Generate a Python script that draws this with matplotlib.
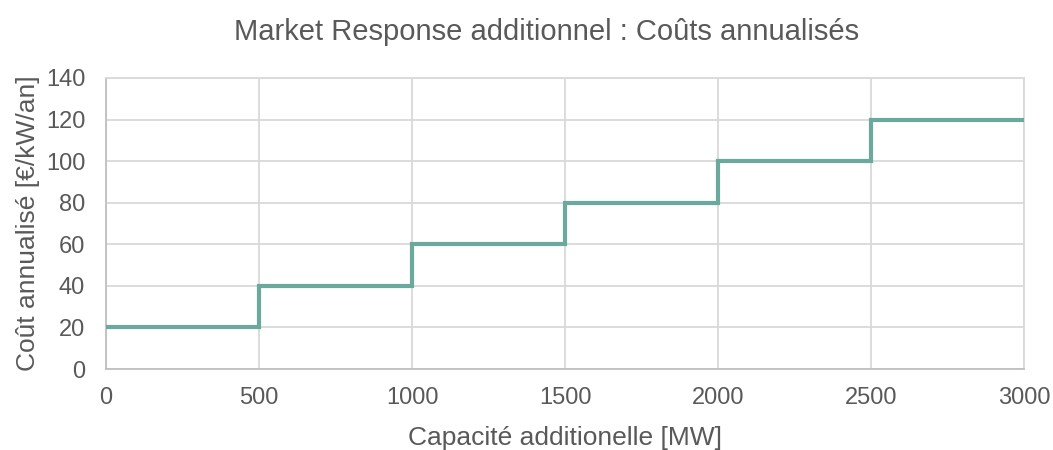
import matplotlib.pyplot as plt

plt.rcParams['font.family'] = ['Liberation Sans', 'DejaVu Sans']

# step edges (MW) and annualised cost per step (EUR/kW/an)
capacity = [0, 500, 1000, 1500, 2000, 2500, 3000]
cost = [20, 40, 60, 80, 100, 120]

x_ticks = [0, 500, 1000, 1500, 2000, 2500, 3000]
y_ticks = [0, 20, 40, 60, 80, 100, 120, 140]

text_col = '#595959'
grid_col = '#d9d9d9'
line_col = '#6aa99c'

fig = plt.figure(figsize=(10.53, 4.5), dpi=100)
ax = fig.add_axes([0.1007, 0.18, 0.8718, 0.6467])

ax.stairs(cost, capacity, color=line_col, linewidth=3, baseline=None, zorder=3)

ax.set_xlim(0, 3000)
ax.set_ylim(0, 140)
ax.set_xticks(x_ticks)
ax.set_yticks(y_ticks)
ax.grid(True, color=grid_col, linewidth=1.3)
ax.set_axisbelow(True)
for s in ax.spines.values():
    s.set_color(grid_col)
    s.set_linewidth(1.3)
ax.spines['left'].set_color('#bfbfbf')
ax.spines['bottom'].set_color('#bfbfbf')
ax.tick_params(length=0, labelsize=17, labelcolor=text_col)
ax.tick_params(axis='x', pad=13)
ax.tick_params(axis='y', pad=15)

ax.set_xlabel('Capacité additionelle [MW]', fontsize=19, color=text_col, labelpad=12)
ax.set_ylabel('Coût annualisé [€/kW/an]', fontsize=19, color=text_col, labelpad=4)
fig.suptitle('Market Response additionnel : Coûts annualisés', fontsize=21,
             color=text_col, x=0.519, y=0.96)

fig.savefig('out.png', dpi=100)
